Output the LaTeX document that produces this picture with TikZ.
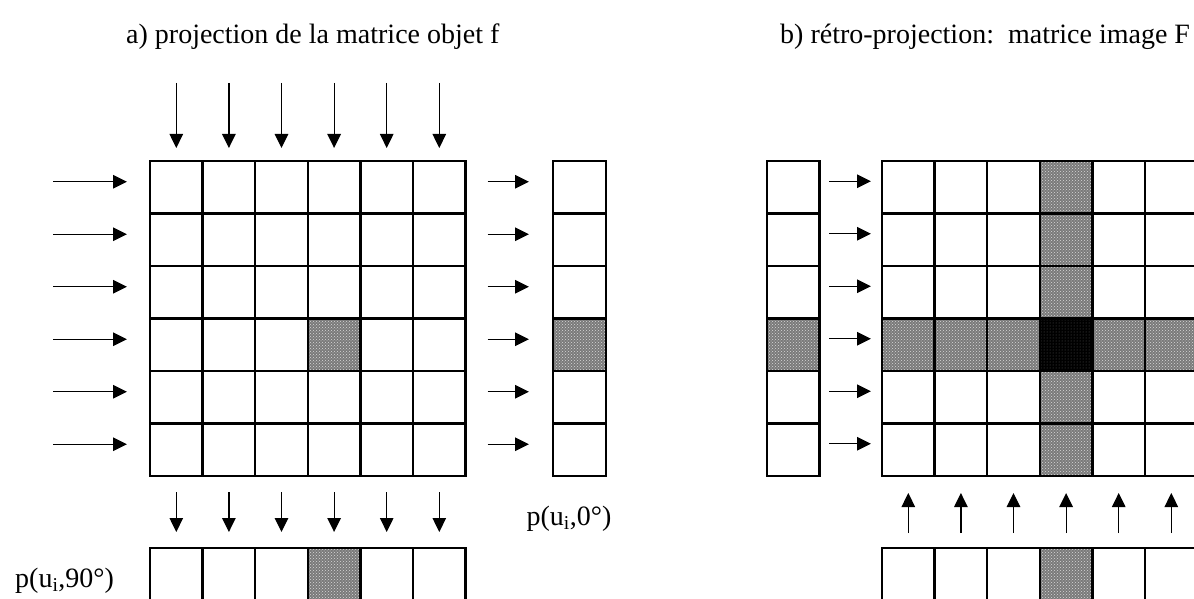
\documentclass[tikz,border=0pt]{standalone}
\usepackage{fontspec}
\setmainfont{Liberation Serif}
\usetikzlibrary{arrows.meta,positioning,patterns}

\begin{document}
\begin{tikzpicture}[x=1pt, y=-1pt, font=\fontsize{28}{34}\selectfont]
  \tikzset{cell/.style={draw, line width=2.4pt, minimum width=52.6pt, minimum height=52.5pt, inner sep=0pt, outer sep=0pt},
    grey/.style={preaction={fill=black!52}, pattern=crosshatch dots, pattern color=white!85!black},
    dark/.style={preaction={fill=black}, pattern=dots, pattern color=black!65},
    arr/.style={line width=1.2pt, -{Triangle[length=14pt, width=13.5pt]}}}
  \useasboundingbox (0,0) rectangle (1194,599);
  \clip (0,0) rectangle (1194,599);
  \node[anchor=base west, inner sep=0pt] (titA) at (126,44) {a) projection de la matrice objet f};
  \node[anchor=base west, inner sep=0pt] (titB) at (780,44) {b) rétro-projection:\ \ matrice image F};
  % a) object matrix f and its two projections
  \foreach \r in {1,...,6} \foreach \c in {1,...,6} {
    \def\st{}\ifnum\r\c=44 \def\st{grey}\fi
    \node[cell,\st] (A\r\c) at ({150+52.6*(\c-0.5)},{161+52.5*(\r-0.5)}) {};}
  \foreach \r in {1,...,6} {
    \def\st{}\ifnum\r=4 \def\st{grey}\fi
    \node[cell,\st, minimum width=53pt] (P\r) at (579.5,{161+52.5*(\r-0.5)}) {};}
  \foreach \c in {1,...,6} {
    \def\st{}\ifnum\c=4 \def\st{grey}\fi
    \node[cell,\st] (S\c) at ({150+52.6*(\c-0.5)},574.25) {};}
  \foreach \r in {1,...,6} {
    \draw[arr] ([xshift=-97pt, yshift=5.5pt]A\r1.west) -- ([xshift=-23pt, yshift=5.5pt]A\r1.west);
    \draw[arr] ([xshift=22pt, yshift=5.5pt]A\r6.east) -- ([xshift=-24pt, yshift=5.5pt]P\r.west);}
  \foreach \c in {1,...,6} {
    \draw[arr] ([yshift=78pt]A1\c.north) -- ([yshift=13pt]A1\c.north);
    \draw[arr] ([yshift=-16pt]A6\c.south) -- ([yshift=16pt]S\c.north);}
  \node[anchor=base] (lab0) at (569,525) {p(u\textsubscript{i},0°)};
  \node[anchor=base west, inner sep=0pt] (lab90) at (15,587) {p(u\textsubscript{i},90°)};
  % b) back-projection into image matrix F
  \foreach \r in {1,...,6} {
    \def\st{}\ifnum\r=4 \def\st{grey}\fi
    \node[cell,\st] (Q\r) at (793,{161+52.5*(\r-0.5)}) {};}
  \foreach \r in {1,...,6} \foreach \c in {1,...,6} {
    \def\st{}\ifnum\r=4 \def\st{grey}\fi\ifnum\c=4 \def\st{grey}\fi\ifnum\r\c=44 \def\st{dark}\fi
    \node[cell,\st] (B\r\c) at ({882+52.6*(\c-0.5)},{161+52.5*(\r-0.5)}) {};}
  \foreach \c in {1,...,6} {
    \def\st{}\ifnum\c=4 \def\st{grey}\fi
    \node[cell,\st] (T\c) at ({882+52.6*(\c-0.5)},574.25) {};}
  \foreach \r in {1,...,6}
    \draw[arr] ([xshift=10pt, yshift=6pt]Q\r.east) -- ([xshift=-11pt, yshift=6pt]B\r1.west);
  \foreach \c in {1,...,6}
    \draw[arr] ([yshift=15pt]T\c.north) -- ([yshift=55pt]T\c.north);
\end{tikzpicture}
\end{document}
